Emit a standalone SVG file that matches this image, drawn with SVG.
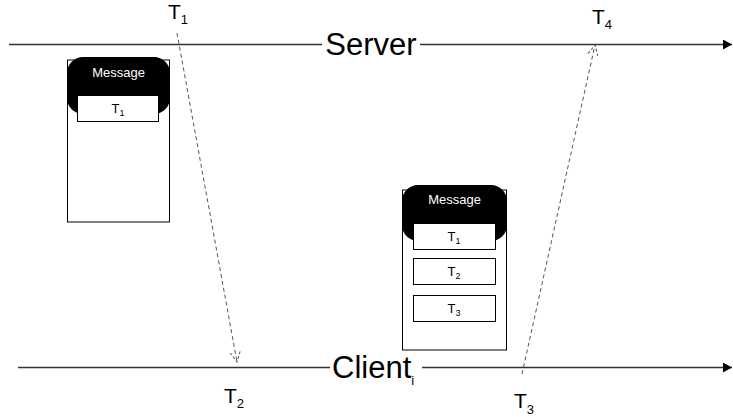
<svg xmlns="http://www.w3.org/2000/svg" width="733" height="417" viewBox="0 0 733 417">
<defs>
<style>
.axis{stroke:#333;stroke-width:1.6;fill:none}
.dash{stroke:#555;stroke-width:1;stroke-dasharray:4 3;fill:none}
.big{font-family:"Liberation Sans",Arial,sans-serif;font-size:31px;fill:#000}
.lab{font-family:"Liberation Sans",Arial,sans-serif;font-size:21px;fill:#000}
.sub{font-size:13px}
.frame{fill:#fff;stroke:#000;stroke-width:1}
.head{fill:#000}
.htxt{font-family:"Liberation Sans",Arial,sans-serif;font-size:13px;fill:#fff;text-anchor:middle}
.cell{fill:#fff;stroke:#000;stroke-width:1}
.ctxt{font-family:"Liberation Sans",Arial,sans-serif;font-size:13px;fill:#000;text-anchor:middle}
.csub{font-size:9px}
</style>
<marker id="solid" markerWidth="10" markerHeight="10" refX="9" refY="5" orient="auto" markerUnits="userSpaceOnUse">
<path d="M0,0 L9,5 L0,10 Z" fill="#000"/>
</marker>
<marker id="open" markerWidth="12" markerHeight="12" refX="10" refY="6" orient="auto" markerUnits="userSpaceOnUse">
<path d="M0,1 L10,6 L0,11" fill="none" stroke="#555" stroke-width="1" stroke-dasharray="3 2"/>
</marker>
</defs>
<rect width="733" height="417" fill="#fff"/>

<g id="connectors">
<line class="axis" x1="9" y1="44.5" x2="322" y2="44.5"/>
<line class="axis" x1="420" y1="44.5" x2="732" y2="44.5" marker-end="url(#solid)"/>
<line class="axis" x1="18" y1="367.5" x2="330" y2="367.5"/>
<line class="axis" x1="422" y1="367.5" x2="732" y2="367.5" marker-end="url(#solid)"/>
<line class="dash" x1="177" y1="33" x2="237" y2="362" marker-end="url(#open)"/>
<line class="dash" x1="522" y1="374" x2="595" y2="45" marker-end="url(#open)"/>
</g>

<g id="server">
<text class="big" x="371" y="55" text-anchor="middle">Server</text>
</g>
<g id="client">
<text class="big" x="332" y="378">Client<tspan class="sub" font-size="14" dy="7">i</tspan></text>
</g>

<g id="t1"><text class="lab" x="168" y="19">T<tspan class="sub" dy="5">1</tspan></text></g>
<g id="t2"><text class="lab" x="224" y="403">T<tspan class="sub" dy="5">2</tspan></text></g>
<g id="t3"><text class="lab" x="514" y="408">T<tspan class="sub" dy="6">3</tspan></text></g>
<g id="t4"><text class="lab" x="592" y="24">T<tspan class="sub" dy="5">4</tspan></text></g>

<g id="message1">
<rect class="frame" x="67.5" y="60" width="102" height="162"/>
<rect class="head" x="67" y="57" width="103" height="57" rx="16" ry="16"/>
<text class="htxt" x="118.5" y="77">Message</text>
<rect class="cell" x="77.5" y="95.5" width="81" height="26"/>
<text class="ctxt" x="118" y="113">T<tspan class="csub" dy="3">1</tspan></text>
</g>

<g id="message2">
<rect class="frame" x="402.5" y="190" width="104" height="160"/>
<rect class="head" x="402" y="185" width="105" height="56" rx="16" ry="16"/>
<text class="htxt" x="454.5" y="204">Message</text>
<rect class="cell" x="413.5" y="223.5" width="82" height="26"/>
<text class="ctxt" x="454" y="241">T<tspan class="csub" dy="3">1</tspan></text>
<rect class="cell" x="413.5" y="258.5" width="82" height="26"/>
<text class="ctxt" x="454" y="276">T<tspan class="csub" dy="3">2</tspan></text>
<rect class="cell" x="413.5" y="295.5" width="82" height="26"/>
<text class="ctxt" x="454" y="313">T<tspan class="csub" dy="3">3</tspan></text>
</g>
</svg>
